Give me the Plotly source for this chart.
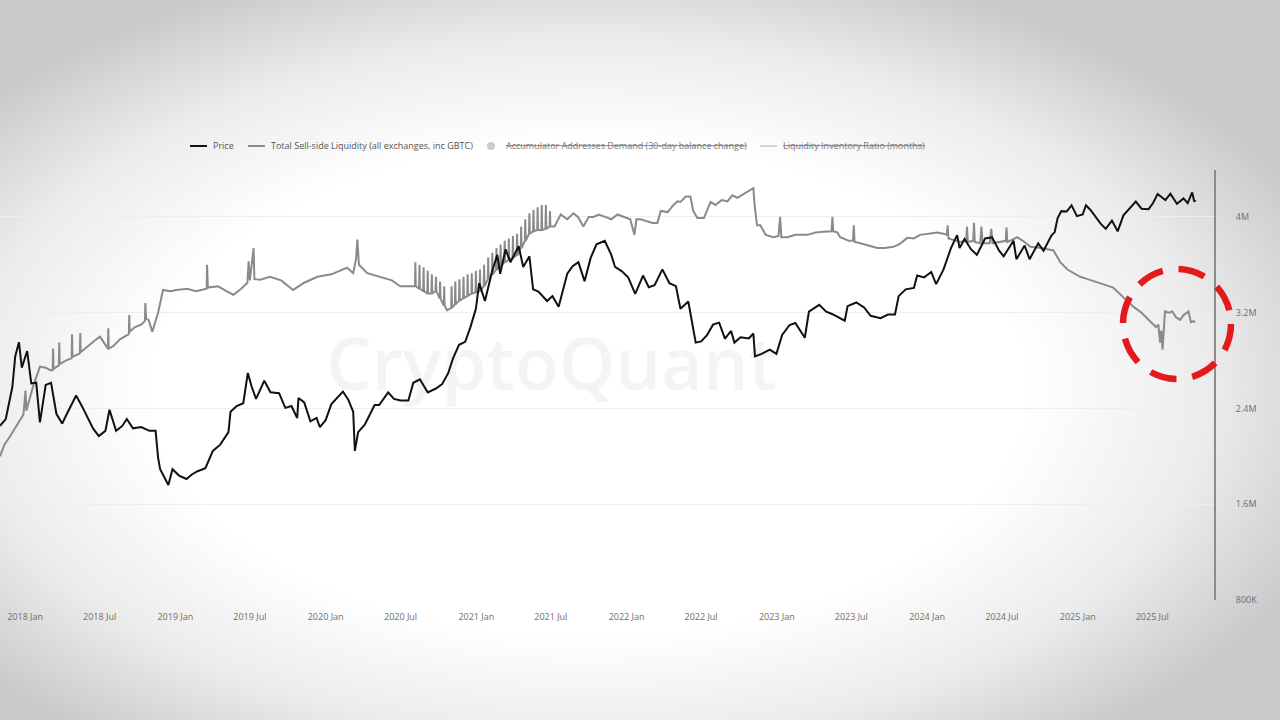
import base64
import plotly.graph_objects as go

# ---------------- data ----------------
price_dates = [
    "2017-11-01", "2017-11-15", "2017-12-01", "2017-12-08", "2017-12-17", "2017-12-24",
    "2018-01-06", "2018-01-16", "2018-01-28", "2018-02-06", "2018-02-20", "2018-03-05",
    "2018-03-18", "2018-04-01", "2018-04-15", "2018-05-05", "2018-05-20", "2018-06-01",
    "2018-06-15", "2018-06-29", "2018-07-15", "2018-07-25", "2018-08-10", "2018-08-25",
    "2018-09-05", "2018-09-20", "2018-10-10", "2018-10-30", "2018-11-14", "2018-11-20",
    "2018-11-25", "2018-12-15", "2018-12-25", "2019-01-10", "2019-01-28", "2019-02-10",
    "2019-02-24", "2019-03-15", "2019-04-02", "2019-04-20", "2019-05-10", "2019-05-15",
    "2019-05-30", "2019-06-15", "2019-06-26", "2019-07-05", "2019-07-16", "2019-08-05",
    "2019-08-20", "2019-09-10", "2019-09-25", "2019-10-10", "2019-10-24", "2019-10-27",
    "2019-11-10", "2019-11-25", "2019-12-10", "2019-12-18", "2020-01-01", "2020-01-15",
    "2020-02-12", "2020-02-25", "2020-03-08", "2020-03-12", "2020-03-20", "2020-04-05",
    "2020-04-29", "2020-05-10", "2020-06-01", "2020-06-15", "2020-07-01", "2020-07-20",
    "2020-08-01", "2020-08-17", "2020-09-05", "2020-09-25", "2020-10-10", "2020-10-25",
    "2020-11-05", "2020-11-20", "2020-12-05", "2020-12-17", "2020-12-31", "2021-01-08",
    "2021-01-22", "2021-02-08", "2021-02-21", "2021-02-28", "2021-03-13", "2021-03-25",
    "2021-04-14", "2021-04-25", "2021-05-10", "2021-05-19", "2021-06-01", "2021-06-22",
    "2021-07-05", "2021-07-20", "2021-08-10", "2021-08-23", "2021-09-06", "2021-09-21",
    "2021-10-06", "2021-10-20", "2021-11-09", "2021-11-25", "2021-12-04", "2021-12-20",
    "2022-01-05", "2022-01-22", "2022-02-10", "2022-02-24", "2022-03-10", "2022-03-29",
    "2022-04-15", "2022-05-01", "2022-05-12", "2022-05-31", "2022-06-13", "2022-06-18",
    "2022-07-01", "2022-07-15", "2022-07-30", "2022-08-14", "2022-08-28", "2022-09-12",
    "2022-09-20", "2022-10-05", "2022-10-25", "2022-11-05", "2022-11-09", "2022-11-25",
    "2022-12-15", "2022-12-31", "2023-01-14", "2023-02-01", "2023-02-15", "2023-03-10",
    "2023-03-20", "2023-04-14", "2023-05-01", "2023-05-15", "2023-06-15", "2023-06-22",
    "2023-07-13", "2023-08-01", "2023-08-17", "2023-09-10", "2023-09-28", "2023-10-15",
    "2023-10-24", "2023-11-10", "2023-11-30", "2023-12-08", "2023-12-25", "2024-01-11",
    "2024-01-23", "2024-02-10", "2024-02-28", "2024-03-14", "2024-03-20", "2024-04-01",
    "2024-04-17", "2024-05-01", "2024-05-21", "2024-06-07", "2024-06-24", "2024-07-05",
    "2024-07-29", "2024-08-05", "2024-08-25", "2024-09-06", "2024-09-27", "2024-10-10",
    "2024-10-29", "2024-11-06", "2024-11-13", "2024-11-22", "2024-12-05", "2024-12-17",
    "2024-12-30", "2025-01-13", "2025-01-21", "2025-02-01", "2025-02-26", "2025-03-10",
    "2025-03-25", "2025-04-08", "2025-04-22", "2025-05-10", "2025-05-22", "2025-06-05",
    "2025-06-22", "2025-07-03", "2025-07-14", "2025-08-02", "2025-08-14", "2025-08-30",
    "2025-09-15", "2025-09-25", "2025-10-06", "2025-10-11", "2025-10-14",
]
price_usd = [
    6700, 7300, 10900, 16000, 19100, 13900,
    17100, 11400, 11500, 7000, 11200, 11500,
    7800, 6900, 8000, 9800, 8500, 7500,
    6500, 5900, 6300, 8200, 6300, 6700,
    7300, 6500, 6600, 6300, 6300, 4500,
    3900, 3200, 3900, 3600, 3450, 3650,
    3800, 3950, 4900, 5300, 6200, 8000,
    8600, 8900, 13000, 11000, 9400, 11800,
    10200, 10100, 8400, 8600, 7400, 9500,
    9000, 7100, 7400, 6600, 7200, 8800,
    10300, 9300, 8000, 4900, 6200, 6800,
    8700, 8700, 10200, 9400, 9200, 9200,
    11500, 12000, 10200, 10700, 11300, 13000,
    15500, 18500, 19200, 22800, 29000, 40000,
    32000, 46000, 57000, 45000, 61000, 52000,
    63500, 49000, 56000, 37000, 36000, 32000,
    34000, 29800, 45000, 49500, 52000, 41000,
    55000, 65000, 68000, 57000, 49000, 46500,
    43000, 35000, 44000, 38000, 39000, 47500,
    40000, 38500, 29000, 31800, 22500, 19000,
    19300, 20800, 23800, 24400, 20000, 22000,
    19000, 20300, 20000, 21300, 16000, 16500,
    17400, 16500, 20900, 23700, 24300, 20200,
    28000, 30500, 28000, 27200, 25000, 30000,
    31400, 29500, 26600, 25800, 27000, 27000,
    34000, 37000, 37700, 44000, 43000, 46000,
    39500, 47500, 62000, 73000, 62000, 69500,
    61000, 57000, 70000, 71000, 60000, 56000,
    68000, 54000, 64000, 54000, 65800, 60000,
    72500, 75800, 90000, 98500, 98000, 106000,
    92500, 94500, 106000, 100000, 84000, 79000,
    87500, 76500, 93500, 104000, 111000, 101500,
    101000, 109000, 122000, 113000, 122500, 108000,
    115500, 109000, 124500, 111000, 113000,
]

liq_dates = [
    "2017-11-01", "2017-11-12", "2017-11-26", "2017-12-10", "2017-12-28", "2018-01-02",
    "2018-01-04", "2018-01-20", "2018-02-06", "2018-02-20", "2018-03-03", "2018-03-09",
    "2018-03-10", "2018-03-11", "2018-03-24", "2018-03-25", "2018-03-26", "2018-04-10",
    "2018-04-24", "2018-04-25", "2018-04-26", "2018-05-14", "2018-05-15", "2018-05-16",
    "2018-06-05", "2018-06-20", "2018-07-02", "2018-07-21", "2018-07-22", "2018-07-23",
    "2018-08-03", "2018-08-20", "2018-09-10", "2018-09-11", "2018-09-12", "2018-09-25",
    "2018-10-10", "2018-10-19", "2018-10-20", "2018-10-22", "2018-10-28", "2018-11-06",
    "2018-11-20", "2018-12-02", "2018-12-20", "2019-01-03", "2019-01-30", "2019-02-20",
    "2019-03-18", "2019-03-19", "2019-03-21", "2019-04-15", "2019-05-05", "2019-05-22",
    "2019-06-10", "2019-06-25", "2019-06-28", "2019-07-01", "2019-07-10", "2019-07-12",
    "2019-07-26", "2019-08-19", "2019-09-15", "2019-10-14", "2019-11-10", "2019-12-12",
    "2020-01-15", "2020-02-22", "2020-03-08", "2020-03-15", "2020-03-18", "2020-03-22",
    "2020-04-11", "2020-05-20", "2020-06-10", "2020-06-30", "2020-07-25",
    "2020-08-05", "2020-08-06", "2020-08-07", "2020-08-15", "2020-08-16", "2020-08-17",
    "2020-08-25", "2020-08-26", "2020-08-27", "2020-09-04", "2020-09-05", "2020-09-06",
    "2020-09-14", "2020-09-15", "2020-09-16", "2020-09-24", "2020-09-25", "2020-09-26",
    "2020-10-04", "2020-10-05", "2020-10-06", "2020-10-14", "2020-10-15", "2020-10-16",
    "2020-10-22",
    "2020-11-01", "2020-11-02", "2020-11-03", "2020-11-10", "2020-11-11", "2020-11-12",
    "2020-11-20", "2020-11-21", "2020-11-22", "2020-11-30", "2020-12-01", "2020-12-02",
    "2020-12-10", "2020-12-11", "2020-12-12", "2020-12-20", "2020-12-21", "2020-12-22",
    "2020-12-30", "2020-12-31", "2021-01-01", "2021-01-09", "2021-01-10", "2021-01-11",
    "2021-01-19", "2021-01-20", "2021-01-21", "2021-01-29", "2021-01-30", "2021-01-31",
    "2021-02-08", "2021-02-09", "2021-02-10", "2021-02-18", "2021-02-19", "2021-02-20",
    "2021-02-28", "2021-03-01", "2021-03-02", "2021-03-10", "2021-03-11", "2021-03-12",
    "2021-03-20", "2021-03-21", "2021-03-22", "2021-03-30", "2021-03-31", "2021-04-01",
    "2021-04-09", "2021-04-10", "2021-04-11", "2021-04-19", "2021-04-20", "2021-04-21",
    "2021-04-29", "2021-04-30", "2021-05-01", "2021-05-09", "2021-05-10", "2021-05-11",
    "2021-05-19", "2021-05-20", "2021-05-21", "2021-05-29", "2021-05-30", "2021-05-31",
    "2021-06-08", "2021-06-09", "2021-06-10", "2021-06-18", "2021-06-19", "2021-06-20",
    "2021-06-28", "2021-06-29", "2021-06-30", "2021-07-10",
    "2021-07-25", "2021-08-10", "2021-08-25", "2021-09-05", "2021-09-18",
    "2021-10-01", "2021-10-13", "2021-10-25", "2021-11-10", "2021-11-25", "2021-12-10",
    "2021-12-25", "2022-01-10", "2022-01-20", "2022-01-25", "2022-02-04", "2022-02-20",
    "2022-03-05", "2022-03-17", "2022-03-25", "2022-04-11", "2022-04-25", "2022-05-05",
    "2022-05-12", "2022-05-25", "2022-06-05", "2022-06-12", "2022-06-22", "2022-07-08",
    "2022-07-16", "2022-07-24", "2022-08-05", "2022-08-20", "2022-09-03", "2022-09-15",
    "2022-09-27", "2022-10-15", "2022-11-05", "2022-11-08", "2022-11-14", "2022-11-22",
    "2022-12-05", "2022-12-24", "2023-01-05", "2023-01-09", "2023-01-12", "2023-01-27",
    "2023-02-15", "2023-03-16", "2023-04-05", "2023-04-24", "2023-05-14", "2023-05-16",
    "2023-05-18", "2023-05-28", "2023-06-04", "2023-06-25", "2023-07-05", "2023-07-07",
    "2023-07-09", "2023-07-23", "2023-08-15", "2023-09-02", "2023-09-20", "2023-10-11",
    "2023-10-25", "2023-11-14", "2023-11-30", "2023-12-15", "2024-01-05", "2024-01-26",
    "2024-02-10", "2024-02-18", "2024-02-20", "2024-02-22", "2024-03-21", "2024-04-05",
    "2024-04-07", "2024-04-09", "2024-04-22", "2024-04-24", "2024-04-26", "2024-05-09",
    "2024-05-12", "2024-05-15", "2024-06-01", "2024-06-05", "2024-06-08", "2024-06-27",
    "2024-07-10", "2024-07-12", "2024-07-14", "2024-08-07", "2024-08-25", "2024-09-08",
    "2024-10-05", "2024-11-03", "2024-11-20", "2024-12-07", "2025-01-07", "2025-01-25",
    "2025-02-18", "2025-03-10", "2025-03-28", "2025-04-22", "2025-05-16", "2025-06-05",
    "2025-06-27", "2025-07-10", "2025-07-16", "2025-07-20", "2025-07-23", "2025-07-26",
    "2025-07-28", "2025-08-01", "2025-08-10", "2025-08-19", "2025-08-28", "2025-09-07",
    "2025-09-15", "2025-09-27", "2025-10-03", "2025-10-09", "2025-10-14",
]
liq_millions = [
    2.00, 2.10, 2.17, 2.25, 2.35, 2.55,
    2.38, 2.58, 2.75, 2.74, 2.72, 2.72,
    2.90, 2.73, 2.76, 2.95, 2.77, 2.80,
    2.82, 3.02, 2.83, 2.86, 3.03, 2.87,
    2.93, 2.97, 3.00, 2.90, 3.07, 2.90,
    2.92, 2.98, 3.02, 3.18, 3.04, 3.08,
    3.10, 3.13, 3.28, 3.15, 3.14, 3.04,
    3.20, 3.39, 3.38, 3.39, 3.40, 3.38,
    3.40, 3.60, 3.41, 3.42, 3.38, 3.35,
    3.40, 3.45, 3.63, 3.47, 3.74, 3.48,
    3.475, 3.50, 3.47, 3.39, 3.45, 3.50,
    3.52, 3.575, 3.53, 3.65, 3.81, 3.60,
    3.53, 3.49, 3.47, 3.42, 3.42,
    3.42, 3.62, 3.42, 3.40, 3.60, 3.40,
    3.38, 3.58, 3.38, 3.36, 3.55, 3.36,
    3.36, 3.52, 3.36, 3.38, 3.50, 3.38,
    3.32, 3.46, 3.32, 3.26, 3.42, 3.26,
    3.22,
    3.24, 3.42, 3.24, 3.27, 3.46, 3.27,
    3.30, 3.48, 3.30, 3.32, 3.50, 3.32,
    3.34, 3.52, 3.34, 3.36, 3.53, 3.36,
    3.37, 3.55, 3.37, 3.38, 3.56, 3.38,
    3.42, 3.60, 3.42, 3.48, 3.66, 3.48,
    3.52, 3.70, 3.52, 3.56, 3.74, 3.56,
    3.59, 3.77, 3.59, 3.62, 3.80, 3.62,
    3.64, 3.82, 3.64, 3.66, 3.84, 3.66,
    3.68, 3.86, 3.68, 3.74, 3.92, 3.74,
    3.80, 3.98, 3.80, 3.86, 4.03, 3.86,
    3.88, 4.06, 3.88, 3.89, 4.08, 3.89,
    3.89, 4.10, 3.89, 3.90, 4.10, 3.90,
    3.92, 4.05, 3.92, 3.92,
    4.02, 3.98, 4.03, 4.00, 3.92,
    4.00, 4.00, 4.02, 4.00, 3.98, 4.02,
    4.00, 3.98, 3.85, 3.98, 3.98, 3.96,
    3.95, 3.95, 4.05, 4.04, 4.10, 4.13,
    4.125, 4.17, 4.17, 4.05, 3.99, 3.99,
    4.05, 4.125, 4.10, 4.14, 4.13, 4.18,
    4.16, 4.20, 4.24, 4.10, 3.93, 3.93,
    3.85, 3.83, 3.84, 4.00, 3.83, 3.83,
    3.85, 3.85, 3.87, 3.875, 3.88, 4.00,
    3.88, 3.87, 3.83, 3.80, 3.80, 3.93,
    3.79, 3.78, 3.76, 3.74, 3.74, 3.75,
    3.77, 3.825, 3.82, 3.85, 3.86, 3.87,
    3.86, 3.85, 3.93, 3.82, 3.79, 3.80,
    3.92, 3.79, 3.80, 3.95, 3.79, 3.78,
    3.92, 3.78, 3.78, 3.90, 3.78, 3.79,
    3.80, 3.91, 3.79, 3.83, 3.79, 3.75,
    3.74, 3.72, 3.62, 3.56, 3.50, 3.48,
    3.45, 3.43, 3.41, 3.33, 3.25, 3.20,
    3.12, 3.08, 3.10, 2.95, 3.05, 2.89,
    3.00, 3.21, 3.20, 3.21, 3.16, 3.14,
    3.18, 3.21, 3.12, 3.13, 3.12,
]
liquidity = [v * 1_000_000 for v in liq_millions]

right_tick_vals = [800_000, 1_600_000, 2_400_000, 3_200_000, 4_000_000]
right_tick_text = ["800K", "1.6M", "2.4M", "3.2M", "4M"]

series_names = [
    "Price",
    "Total Sell-side Liquidity (all exchanges, inc GBTC)",
    "Accumulator Addresses Demand (30-day balance change)",
    "Liquidity Inventory Ratio (months)",
]

watermark_text = "CryptoQuant"
watermark_date = "2021-07-03"
watermark_value = 2_708_000

# ---------------- layout geometry ----------------
W, H = 1280, 720
ML, MR, MT, MB = 0, 66, 170, 120
PW, PH = W - ML - MR, H - MT - MB


def px_x(x):
    return (x - ML) / PW


def px_y(y):
    return (H - MB - y) / PH


# vignette background as svg radial gradient
svg = (
    '<svg xmlns="http://www.w3.org/2000/svg" width="1280" height="720" preserveAspectRatio="none">'
    '<defs><radialGradient id="g" cx="0.46" cy="0.54" r="0.62" fx="0.46" fy="0.54">'
    '<stop offset="0" stop-color="#ffffff"/>'
    '<stop offset="0.55" stop-color="#ffffff"/>'
    '<stop offset="0.78" stop-color="#ececec"/>'
    '<stop offset="1" stop-color="#c9c9c9"/>'
    '</radialGradient></defs>'
    '<rect width="1280" height="720" fill="url(#g)"/></svg>'
)
bg_src = "data:image/svg+xml;base64," + base64.b64encode(svg.encode()).decode()

fig = go.Figure()

# watermark, drawn first so it sits beneath the lines
fig.add_trace(go.Scatter(
    x=[watermark_date], y=[watermark_value], mode="text", text=[watermark_text],
    textposition="middle center", hoverinfo="skip", showlegend=False,
    textfont=dict(family="Open Sans, Noto Sans, sans-serif", size=72, color="#f4f4f6", weight=600),
))
fig.add_trace(go.Scatter(
    x=price_dates, y=price_usd, name=series_names[0], mode="lines",
    line=dict(color="#111111", width=2), yaxis="y2", showlegend=False,
))
fig.add_trace(go.Scatter(
    x=liq_dates, y=liquidity, name=series_names[1], mode="lines",
    line=dict(color="#8a8a8a", width=2), yaxis="y", showlegend=False,
))

axis_font = dict(family="Open Sans, Noto Sans, sans-serif", size=9, color="#6e6e6e")
legend_font = dict(family="Open Sans, Noto Sans, sans-serif", size=9, color="#555555")
legend_font_off = dict(family="Open Sans, Noto Sans, sans-serif", size=9, color="#7c7c7c")

LEG_Y = 146
shapes = [
    dict(type="line", xref="paper", yref="paper", x0=px_x(190), x1=px_x(207),
         y0=px_y(LEG_Y), y1=px_y(LEG_Y), line=dict(color="#111111", width=2)),
    dict(type="line", xref="paper", yref="paper", x0=px_x(248), x1=px_x(265),
         y0=px_y(LEG_Y), y1=px_y(LEG_Y), line=dict(color="#8a8a8a", width=2)),
    dict(type="circle", xref="paper", yref="paper", x0=px_x(487), x1=px_x(495),
         y0=px_y(LEG_Y + 4), y1=px_y(LEG_Y - 4), fillcolor="#cccccc",
         line=dict(color="#cccccc", width=0)),
    dict(type="line", xref="paper", yref="paper", x0=px_x(760), x1=px_x(777),
         y0=px_y(LEG_Y), y1=px_y(LEG_Y), line=dict(color="#c8c8c8", width=1.5)),
    # red dashed highlight circle
    dict(type="circle", xref="paper", yref="paper",
         x0=px_x(1123), x1=px_x(1231), y0=px_y(379), y1=px_y(269),
         line=dict(color="#e3191c", width=6.5, dash="27px,16px"), layer="above"),
]

annotations = [
    dict(text=series_names[0], xref="paper", yref="paper", x=px_x(211), y=px_y(LEG_Y),
         xanchor="left", yanchor="middle", showarrow=False, font=legend_font),
    dict(text=series_names[1], xref="paper", yref="paper", x=px_x(269), y=px_y(LEG_Y),
         xanchor="left", yanchor="middle", showarrow=False, font=legend_font),
    dict(text='<span style="text-decoration:line-through">' + series_names[2] + "</span>",
         xref="paper", yref="paper", x=px_x(504), y=px_y(LEG_Y),
         xanchor="left", yanchor="middle", showarrow=False, font=legend_font_off),
    dict(text='<span style="text-decoration:line-through">' + series_names[3] + "</span>",
         xref="paper", yref="paper", x=px_x(781), y=px_y(LEG_Y),
         xanchor="left", yanchor="middle", showarrow=False, font=legend_font_off),
]

fig.update_layout(
    width=W, height=H,
    margin=dict(l=ML, r=MR, t=MT, b=MB, pad=0),
    paper_bgcolor="#ffffff",
    plot_bgcolor="rgba(0,0,0,0)",
    showlegend=False,
    xaxis=dict(
        type="date",
        range=["2017-11-01", "2025-11-28"],
        tick0="2018-01-01", dtick="M6", tickformat="%Y %b",
        showgrid=False, zeroline=False, showline=False,
        ticks="", tickfont=axis_font, ticklabelstandoff=10,
        automargin=False,
    ),
    yaxis=dict(
        side="right", range=[800_000, 4_391_700],
        tickvals=right_tick_vals, ticktext=right_tick_text,
        showgrid=True, gridcolor="#eeeeee", gridwidth=1,
        zeroline=False, showline=True, linecolor="#8c8c8c", linewidth=2,
        ticks="", tickfont=axis_font, ticklabelstandoff=18,
        automargin=False,
    ),
    yaxis2=dict(
        type="log", overlaying="y", side="left", range=[2.880, 5.217],
        visible=False, showgrid=False, zeroline=False,
    ),
    images=[dict(
        source=bg_src, xref="paper", yref="paper",
        x=px_x(0), y=px_y(0), sizex=W / PW, sizey=H / PH,
        xanchor="left", yanchor="top", sizing="stretch", layer="below",
    )],
    annotations=annotations,
    shapes=shapes,
)

fig.write_html(
    "out.html",
    config={"displayModeBar": False},
    post_script="document.body.style.margin='0';document.body.style.overflow='hidden';",
)
